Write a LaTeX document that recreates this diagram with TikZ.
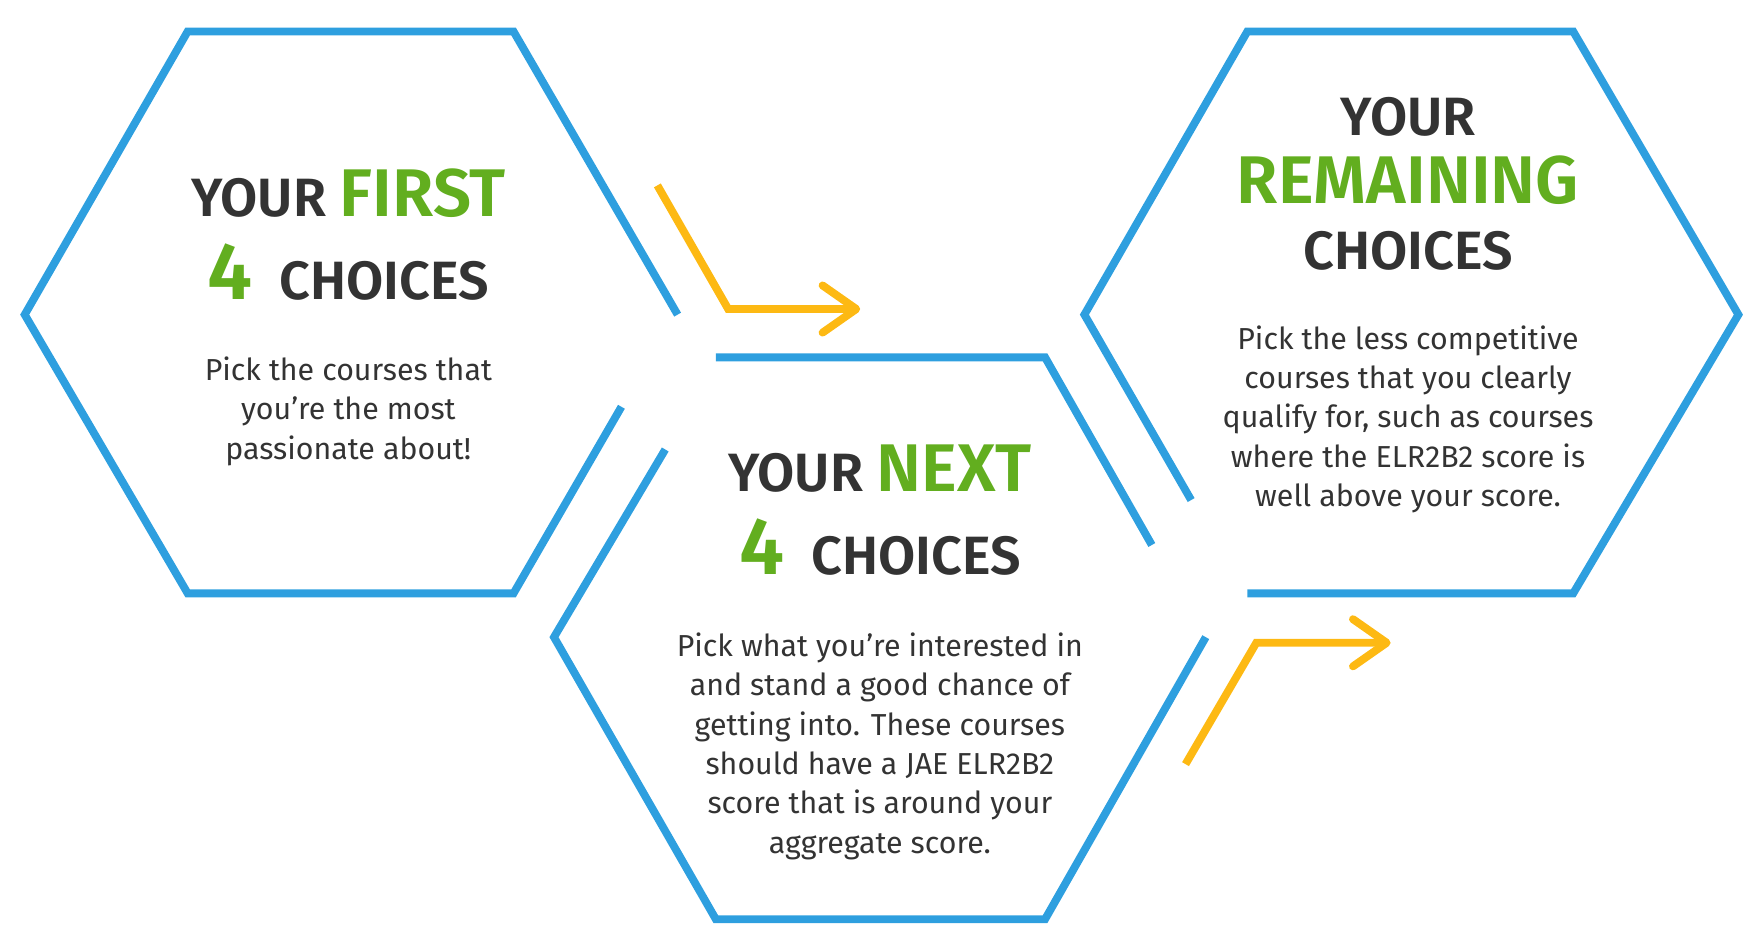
\documentclass[tikz,border=0pt]{standalone}
\usepackage{fontspec}
\setmainfont{Fira Sans}
\newfontfamily\hfont{Fira Sans}[UprightFont=* SemiBold]
\definecolor{hblue}{HTML}{2E9FDF}
\definecolor{hgreen}{HTML}{62AE1F}
\definecolor{horange}{HTML}{FDB913}
\definecolor{hdark}{HTML}{333333}
\begin{document}
\begin{tikzpicture}[x=1pt,y=-1pt,
  hex/.style={draw=hblue,line width=7pt,line cap=butt,line join=miter},
  arr/.style={draw=horange,line width=7pt,line join=miter},
  head/.style={draw=horange,line width=7pt,line cap=round,line join=round},
  body/.style={align=center,text=hdark,font=\fontsize{27}{35}\selectfont},
  ttl/.style={align=center,text=hdark,font=\hfont\fontsize{48}{58}\selectfont}]
\useasboundingbox (0,0) rectangle (1568,845);
% hexagon 1
\draw[hex] (603,280) -- (457,28) -- (167,28) -- (22,280) -- (167,528) -- (457,528) -- (553,362);
% hexagon 2
\draw[hex] (1025,485) -- (930,318) -- (637,318);
\draw[hex] (592,400) -- (493,567) -- (637,818) -- (930,818) -- (1073,567);
% hexagon 3
\draw[hex] (1060,445) -- (965,280) -- (1110,28) -- (1400,28) -- (1547,280) -- (1400,528) -- (1110,528);
% arrows
\coordinate (a1s) at (585,165); \coordinate (a1m) at (648,275); \coordinate (a1e) at (762,275);
\draw[arr] (a1s) -- (a1m) -- (a1e);
\draw[head] (732,254) -- (a1e) -- (732,296);
\coordinate (a2s) at (1055,680); \coordinate (a2m) at (1118,572); \coordinate (a2e) at (1234,572);
\draw[arr] (a2s) -- (a2m) -- (a2e);
\draw[head] (1204,551) -- (a2e) -- (1204,593);
% texts
\node[ttl] (t1) at (310,172) {YOUR \textcolor{hgreen}{\fontsize{60}{60}\selectfont FIRST}};
\node[ttl] (t1b) at (310,242) {\textcolor{hgreen}{\fontsize{72}{72}\selectfont 4}\enspace CHOICES};
\node[body] (b1) at (310,366) {Pick the courses that\\you’re the most\\passionate about!};
\node[ttl] (t2) at (783,417) {YOUR \textcolor{hgreen}{\fontsize{60}{60}\selectfont NEXT}};
\node[ttl] (t2b) at (783,487) {\textcolor{hgreen}{\fontsize{72}{72}\selectfont 4}\enspace CHOICES};
\node[body] (b2) at (783,664) {Pick what you’re interested in\\and stand a good chance of\\getting into. These courses\\should have a JAE ELR2B2\\score that is around your\\aggregate score.};
\node[ttl] (t3a) at (1253,104) {YOUR};
\node[ttl,text=hgreen,font=\hfont\fontsize{60}{60}\selectfont] (t3b) at (1253,160) {REMAINING};
\node[ttl] (t3c) at (1253,223) {CHOICES};
\node[body] (b3) at (1253,373) {Pick the less competitive\\courses that you clearly\\qualify for, such as courses\\where the ELR2B2 score is\\well above your score.};
\end{tikzpicture}
\end{document}
